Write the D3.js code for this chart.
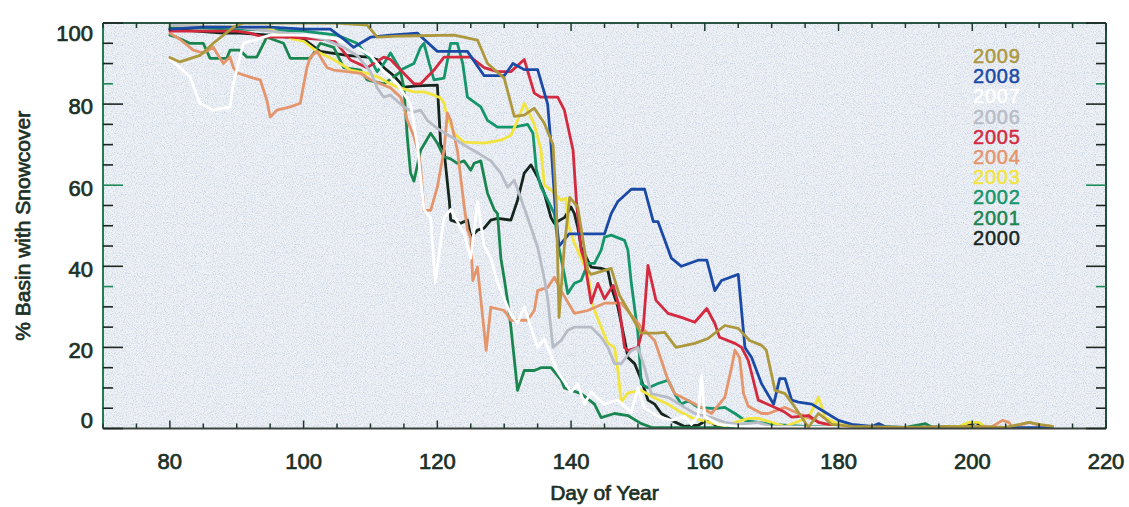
<!DOCTYPE html>
<html><head><meta charset="utf-8">
<script src="https://cdn.jsdelivr.net/npm/d3@7"></script>
<style>html,body{margin:0;padding:0;background:#fff;} svg{display:block;}</style>
</head><body><svg id="chart" width="1129" height="507"></svg>
<script>
// ---------- DATA ----------
const years = ["2009","2008","2007","2006","2005","2004","2003","2002","2001","2000"];
const xTickLabels = [80,100,120,140,160,180,200,220];
const yTickLabels = [0,20,40,60,80,100];

const s2000 = [[80,98.5],[84,98],[88,97.5],[90.5,97.5],[95,97],[100,96],[102.5,93],[104.5,92.5],[106.5,92],[110,91.5],[111,91],[112,89],[113.5,87],[115,84.2],[117,84.5],[120,84.7],[120.5,70],[121,68.6],[121.8,56],[122,51.4],[123.5,50.6],[124.5,51.4],[125,47.2],[126,48.9],[127,49.4],[128,51.4],[129,51.8],[131,51.4],[132,56.3],[133,63],[134,65],[135,62],[136,58],[137,52],[137.5,50.6],[139,52],[140,54.6],[140.5,53],[141,49.6],[141.5,44.7],[143,39.8],[144.5,39.5],[145.5,39],[146,35],[147,30],[148,22],[148.5,17.5],[149.5,16],[150.5,12],[151.5,7],[152.5,6],[153.5,3.7],[154.5,2.7],[155,2],[157,0.5],[159,0.8],[160,1.8],[161,1.5],[162,0.3],[170,0.2],[180,0.3],[190,0.2],[199,0.5],[200.5,1.5],[202,0.3],[212,0.2]];
const s2001 = [[80,97],[81,96.5],[83,95],[85,95],[86,91.3],[88.5,91.3],[89,93.3],[90.5,93.3],[91.5,91.6],[93,91.6],[94.5,96.5],[97,95],[98,91.3],[101,91.3],[102.5,95],[104.5,94],[106,89],[108.5,88.4],[109.5,86],[112,85],[113.5,86.7],[114.5,88],[115,84],[115.5,72],[116,63],[116.5,61],[117.5,68.6],[119,72.8],[120,70.4],[121,67],[122,66.5],[123,65.4],[124,66],[125,63.7],[125.5,65.4],[126.5,66],[127,62],[127.5,58],[128.5,54],[129,53],[129.5,42],[130,37],[130.5,31.6],[131,25],[132,9.4],[133,14.3],[134.5,14.3],[135.5,15],[137,15],[138.5,12],[139,10],[141.5,8.6],[143.5,6],[144.5,2.7],[146.5,3.7],[148.5,3.2],[150.5,1.2],[152,0.3],[160,0.2],[170,0.3],[180,0.2],[190,0.3],[193,1.2],[194,0.3],[212,0.2]];
const s2002 = [[80,99],[90,98.5],[100,98],[105,97],[108,95],[110,91],[111,88],[112,90],[113,92.6],[114.5,88.4],[116.5,90],[117.5,94],[118,95],[118.8,90],[119.5,86],[121,86.4],[122,95],[123,95],[123.8,90],[124.5,81.7],[126.5,79.3],[127.5,76],[129,74.3],[131.5,74.3],[133.5,75],[134.3,72.8],[134.8,64],[135.5,59.5],[136.5,56.3],[137.5,53],[138,46],[139,38],[139.5,33.3],[140.5,35.8],[141.5,36.5],[142.5,40.7],[143.5,40.7],[144.5,44],[145,47.2],[146,47.7],[148,46.4],[148.5,44],[149,36],[150,23.5],[150.5,11],[151.5,10],[153,11.1],[154.5,11.9],[155.5,8.6],[156.5,6],[157.5,6.9],[159,5.2],[161.5,4.9],[163,5.2],[164.5,3.7],[166,2],[168,1.5],[170,1],[175,0.5],[180,0.3],[186,0.5],[190,0.2],[212,0.2]];
const s2003 = [[80,99.5],[90,99],[95,98.5],[98.5,96],[100,95.5],[102,93],[104.5,91],[107,88.4],[109.5,87.6],[111.5,86.4],[112.5,85.4],[114,84.2],[116.5,83],[118,83],[119.5,82.2],[120.5,81.5],[121,80.2],[121.5,76.8],[122.5,72.8],[124,70.6],[127,70.4],[129.5,71.1],[131,72.3],[132,76],[133,80.2],[133.5,78.5],[134.5,75],[135,71.9],[135.5,68.6],[136,60],[137,58.8],[138.5,56.3],[139.2,56.8],[139.7,49.6],[140.5,45.7],[141.5,42],[142.5,38.3],[143.3,30],[144.5,25],[145.5,21],[146.5,20],[147,14.3],[147.5,6.5],[148.5,8.8],[150.5,9.4],[152.5,7.5],[154.5,6],[156,4.4],[158,2.7],[161.5,1.2],[163,0.7],[166.5,2.5],[168,2.5],[170,1.5],[172,0.5],[175.5,2.7],[177,7.7],[178,2.7],[180,1],[185,0.3],[190,0],[195,0.3],[198,0.5],[199.5,1.5],[201,1.5],[202,0.3],[212,0.2]];
const s2004 = [[80,97.5],[81.5,96],[83.5,93.3],[85,92.6],[86.5,94],[87,92.6],[88,90],[89,91.6],[89.5,89],[90.2,87.6],[92.5,86.4],[93.5,86],[94.5,81],[95,76.8],[96,78.5],[98,79.3],[99.5,80.2],[100.5,89],[101,91.6],[102,93],[103.5,89],[104.5,88.4],[106.5,88],[108.5,87.6],[110,86],[111.5,85],[113,84],[114.5,81.7],[115,79.3],[115.5,76],[116.5,72],[117.2,68],[117.5,64.4],[118,53.8],[119,53.8],[120,59.5],[121,68.6],[121.5,77.8],[122,76],[123,68.6],[124,55],[124.5,49],[125,47],[125.3,36.5],[126,39.8],[127.3,19.3],[128,29.9],[130,29.1],[131,26.7],[133.5,26.7],[134.5,29.1],[135,34],[136.5,34.8],[137.5,37.3],[138.5,34],[139.5,31.2],[140.5,28.4],[142.5,29.1],[145,30.9],[147.5,30.9],[149.3,27.4],[150.5,25],[152.5,21.7],[153.5,16.8],[154.5,11.9],[155.5,8.6],[157.5,6.9],[159.5,5.2],[161,3.7],[163,7.7],[164,15],[164.5,19.3],[165.2,17.5],[165.8,8.6],[166.5,5.5],[168.5,3.7],[169.5,3.7],[172,5.2],[174,3.7],[176.5,2],[178,1],[180,0.5],[185,0.3],[190,0.2],[200,0.3],[203,0.5],[204.5,2],[205.5,1.5],[206,0.3],[208.5,1.5],[210,0.8],[212,0.5]];
const s2005 = [[80,98],[85,98],[90,98],[92,97.5],[94,96.5],[98,96.5],[102,96],[104.5,95.8],[107,90.9],[109.5,89],[112,91.6],[113,91],[114.5,88.4],[116.5,85],[117.5,85],[119.5,88.4],[121,91.6],[125,91.6],[127,89],[129,88],[131,88],[133,91],[134.5,82.7],[135.5,81.7],[138,81.7],[139,78.5],[140.3,68.6],[140.8,56],[141.5,44],[142,41.5],[143,31],[144,35.8],[145,32],[146.3,35.3],[147.2,30],[148,20],[148.5,19.2],[150,20],[150.8,25],[151.5,40.2],[152.7,31.6],[154.5,28.4],[156.5,27.4],[158.5,26.2],[160.3,29.6],[161.5,25.9],[162.2,22.5],[164.5,21],[165.5,20],[166.5,16.8],[167,13.6],[168,7],[170.5,5.2],[172,4],[173,2.8],[175.5,3.2],[177,1.5],[180,0.5],[190,0.2],[212,0.2]];
const s2006 = [[80,99.5],[90,99],[95,98],[100,97],[103,96],[106,94],[108,92],[110,88],[111,84],[112,81.7],[113,82.2],[115,79.3],[116.5,78],[117.5,78.5],[118.5,76],[120,74],[123,71],[124.5,69.4],[126,68],[128,66],[129.5,63],[130.5,59.5],[131.5,61.2],[132,59],[133.5,52],[135,44.7],[136,37],[136.5,32],[137.3,20],[138.5,21.7],[139.5,24.2],[140.5,25],[143,25],[144.5,22.5],[145.5,20],[146.5,16],[147.5,16],[149,19.2],[150,20],[151,15],[152,8.6],[154.5,7.7],[157,5.2],[158.5,3.7],[161,2.7],[163,1.5],[165,1],[168,1.5],[170,0.5],[180,0.3],[212,0.2]];
const s2007 = [[80,91],[81.5,89],[83,86.7],[84.5,80.2],[86.5,78.5],[89,79.3],[89.5,85],[90,88.4],[91,95],[95,97],[100,97],[105,96],[108,94],[110,92],[112,88],[114,85],[116,80],[117,70],[118,54],[119,52],[119.7,36],[121,52],[122,54],[124,48],[125,42],[126,56],[127,45],[128,42],[129,36],[130,32],[131,28],[132,26],[133,30],[134,25],[135,20],[136,22],[137,18],[138,14],[140,9],[141,11],[142,6],[143,9],[145,6],[147,7],[149,4],[150,10],[151,5],[153,3],[155,2],[157,3],[158,1],[159,3],[159.5,13],[160,3],[162,1],[165,0.5],[170,0.3],[212,0.2]];
const s2008 = [[80,98.5],[85,99],[90,99],[95,99],[100,98.5],[104,98.5],[106,96],[107.5,94],[108.5,95],[110,96.5],[113,97],[117,97.5],[118,96],[120,93],[124.5,93],[127,87],[130,87],[131.3,90],[133,88.5],[135,88.5],[136.5,80],[137,70],[137.6,55],[138.2,45],[139.7,48],[145,48],[146,53],[147,56],[149,59],[151,59],[152.3,51],[153,51],[155,42],[156.5,40],[159,41.5],[160.3,41.5],[161.5,34],[162.5,36.5],[165,38],[166,20],[167,17.5],[168.5,11],[170.3,6],[171.2,12.3],[172,12.3],[173,7],[174,6.5],[176,6],[178,4],[180,2],[182,1],[185,0.5],[186,1.2],[187,0.4],[190,0.3],[200,0.2],[212,0.2]];
const s2009 = [[80,91.5],[81.5,90.4],[84.5,92],[86.5,95],[89.5,99],[91,100],[95,100],[100,100],[105,100],[109.5,99.5],[111,96.5],[115,96.8],[122.5,97],[126,95.8],[127.5,90],[130,86.4],[131.5,77],[133,77.3],[134.5,79],[136,75.3],[137.3,70],[137.8,55],[138.2,27.4],[139,45],[139.8,57],[141,54.6],[142.5,39],[143,38],[146,39.5],[147.2,33],[150.5,23.5],[152.7,23.5],[154,23.7],[155.7,20],[158.5,21],[160.5,22.2],[163,25.4],[165,24.7],[166.7,21.7],[168.5,20.5],[169.2,19.3],[170.5,9.4],[172,8.6],[173.5,5.2],[175.5,0.3],[177,3.7],[177.8,2.7],[179,1],[182,0.5],[190,0.3],[200,0.5],[205,0.3],[208.5,1.5],[210,1],[212,0.5]];

const seriesByYear = {"2000":s2000,"2001":s2001,"2002":s2002,"2003":s2003,"2004":s2004,
  "2005":s2005,"2006":s2006,"2007":s2007,"2008":s2008,"2009":s2009};

// ---------- STYLE ----------
const yearColors = {"2009":"#ad983e","2008":"#1a4aa6","2007":"#ffffff","2006":"#b8bcc6",
  "2005":"#d42a40","2004":"#e4956c","2003":"#f2e43e","2002":"#14956a","2001":"#1b8550","2000":"#16261e"};
const textColor = "#1b3026";
const font = "'Liberation Sans', Arial, Helvetica, sans-serif";

const svg = d3.select("#chart");
const x = d3.scaleLinear().domain([70,220]).range([103,1106]);
const y = d3.scaleLinear().domain([0,100]).range([428.5,23]);
const [x0,x1] = x.range(), [y0,y1] = y.range();

const defs = svg.append("defs");
const f = defs.append("filter").attr("id","speck").attr("x",0).attr("y",0).attr("width","100%").attr("height","100%");
f.append("feTurbulence").attr("type","fractalNoise").attr("baseFrequency",0.9).attr("numOctaves",2).attr("seed",7).attr("result","t");
f.append("feColorMatrix").attr("in","t").attr("type","matrix")
  .attr("values","0 0 0 0 0.55  0 0 0 0 0.63  0 0 0 0 0.75  2.6 0 0 0 -1.18");
defs.append("clipPath").attr("id","plotclip").append("rect")
  .attr("x",x0).attr("y",y1).attr("width",x1-x0).attr("height",y0-y1);

// background
svg.append("rect").attr("x",x0).attr("y",y1).attr("width",x1-x0).attr("height",y0-y1).attr("fill","#eef1f5");
svg.append("rect").attr("x",x0).attr("y",y1).attr("width",x1-x0).attr("height",y0-y1).attr("filter","url(#speck)");

// lines
const line = d3.line().x(d=>x(d[0])).y(d=>y(d[1]));
const gLines = svg.append("g").attr("clip-path","url(#plotclip)");
years.slice().reverse().forEach(yr=>{
  gLines.append("path").datum(seriesByYear[yr]).attr("d",line)
    .attr("fill","none").attr("stroke",yearColors[yr]).attr("stroke-width",2.8)
    .attr("stroke-linejoin","round").attr("stroke-linecap","round");
});

// frame
const gAx = svg.append("g");
gAx.append("line").attr("x1",x0).attr("x2",x0).attr("y1",y1).attr("y2",y0).attr("stroke","#1f7d52").attr("stroke-width",2);
gAx.append("line").attr("x1",x1).attr("x2",x1).attr("y1",y1).attr("y2",y0).attr("stroke","#22503c").attr("stroke-width",2);
gAx.append("line").attr("x1",x0).attr("x2",x1).attr("y1",y1).attr("y2",y1).attr("stroke","#2a5443").attr("stroke-width",2);
gAx.append("line").attr("x1",x0).attr("x2",x1).attr("y1",y0).attr("y2",y0).attr("stroke","#3c423f").attr("stroke-width",2);

// y ticks (left & right)
const greenTicks = [85,60,35];
d3.range(0,101,5).forEach(v=>{
  const len = v%20===0 ? 20 : 10;
  const col = greenTicks.includes(v) ? "#1f8a58" : "#1d2722";
  gAx.append("line").attr("x1",x0).attr("x2",x0+len).attr("y1",y(v)).attr("y2",y(v)).attr("stroke",col).attr("stroke-width",1.6);
  gAx.append("line").attr("x1",x1).attr("x2",x1-len).attr("y1",y(v)).attr("y2",y(v)).attr("stroke",col).attr("stroke-width",1.6);
});
// x ticks (bottom & top)
d3.range(70,221,5).forEach(d=>{
  const len = d%20===0 ? 8 : 5;
  gAx.append("line").attr("x1",x(d)).attr("x2",x(d)).attr("y1",y0).attr("y2",y0-len).attr("stroke","#1d3a2c").attr("stroke-width",1.5);
  gAx.append("line").attr("x1",x(d)).attr("x2",x(d)).attr("y1",y1).attr("y2",y1+len).attr("stroke","#1d3a2c").attr("stroke-width",1.5);
});

// tick labels
const labStyle = s => s.attr("font-family",font).attr("font-size",22).attr("fill",textColor)
  .attr("stroke",textColor).attr("stroke-width",0.7);
svg.append("g").selectAll("text").data(yTickLabels).join("text")
  .attr("x",93).attr("y",v=> y(v) + (v===100 ? 12 : v===0 ? -6.5 : 4.5))
  .attr("text-anchor","end").attr("dominant-baseline","middle").text(v=>v).call(labStyle);
svg.append("g").selectAll("text").data(xTickLabels).join("text")
  .attr("x",d=>x(d)).attr("y",469).attr("text-anchor","middle").text(d=>d).call(labStyle);

// axis titles
svg.append("text").attr("x",(x0+x1)/2).attr("y",500).attr("text-anchor","middle")
  .text("Day of Year").call(labStyle).attr("font-size",21);
svg.append("text").attr("transform",`translate(30,${(y0+y1)/2}) rotate(-90)`).attr("text-anchor","middle")
  .text("% Basin with Snowcover").call(labStyle).attr("font-size",21);

// legend
svg.append("g").selectAll("text").data(years).join("text")
  .attr("x",973).attr("y",(d,i)=>63+i*20.2)
  .attr("font-family",font).attr("font-size",20).attr("letter-spacing",0.8)
  .attr("fill",d=>yearColors[d]).attr("stroke",d=>yearColors[d]).attr("stroke-width",0.5)
  .text(d=>d);
</script></body></html>
